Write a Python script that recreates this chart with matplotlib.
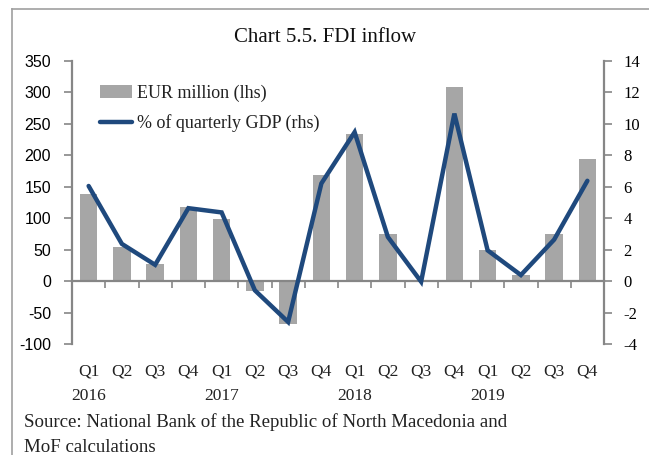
"""Chart 5.5 - FDI inflow, bars (EUR million, lhs) and line (% of GDP, rhs)."""
import matplotlib
matplotlib.use("Agg")  # noqa: E402
import matplotlib.pyplot as plt
import matplotlib.transforms as mtransforms
from matplotlib.lines import Line2D
import numpy as np

quarters = ["Q1", "Q2", "Q3", "Q4"] * 4
years = ["2016", "2017", "2018", "2019"]
eur_million = [138, 54, 27, 117, 98, -16, -68, 168,
               233, 75, 0, 309, 50, 9, 75, 194]
pct_gdp = [6.04, 2.36, 1.03, 4.63, 4.36, -0.59, -2.6, 6.2,
           9.46, 2.8, -0.04, 10.64, 1.95, 0.38, 2.63, 6.37]

_BAR = "#a6a6a6"
_LINE = "#1f497d"
_AXIS = "#868686"
_SERIF = "Liberation Serif"

plt.rcParams["axes.unicode_minus"] = False

fig = plt.figure(figsize=(6.49, 4.55), dpi=100)
ax = fig.add_axes([72 / 649, 1 - 344 / 455, (604 - 72) / 649, (344 - 60.7) / 455])
ax2 = ax.twinx()

x = np.arange(len(eur_million))
ax.bar(x, eur_million, width=0.52, color=_BAR, zorder=2, label="EUR million (lhs)")
ax2.plot(x, pct_gdp, color=_LINE, linewidth=3.2, solid_capstyle="round",
         solid_joinstyle="miter", label="% of quarterly GDP (rhs)")

ax.set_xlim(-0.5, len(x) - 0.5)
ax.set_ylim(-100, 350)
ax.set_yticks(np.arange(-100, 351, 50))
ax2.set_ylim(-4, 14)
ax2.set_yticks(np.arange(-4, 15, 2))

for a in (ax, ax2):
    a.spines["top"].set_visible(False)
    for s in ("left", "right", "bottom"):
        a.spines[s].set_color(_AXIS)
ax.spines["right"].set_visible(False)
ax2.spines["left"].set_visible(False)
ax2.spines["bottom"].set_visible(False)
ax.spines["bottom"].set_position(("data", 0))
ax.spines["left"].set_linewidth(1.6)
ax2.spines["right"].set_linewidth(1.6)
ax.spines["bottom"].set_linewidth(1.6)

# ticks on the zero line at category boundaries
ax.set_xticks(np.arange(0.5, len(x) - 1, 1.0))
ax.set_xticklabels([])
ax.tick_params(axis="x", direction="out", length=5, width=1.2, color=_AXIS)
ax.tick_params(axis="y", direction="out", length=6, width=1.2, color=_AXIS,
               labelsize=11.5, pad=9)
for lbl in ax.get_yticklabels():
    lbl.set_fontfamily("Liberation Sans")
ax2.tick_params(axis="y", direction="out", length=6, width=1.2, color=_AXIS,
                labelsize=12, pad=8)
for lbl in ax2.get_yticklabels():
    lbl.set_fontfamily(_SERIF)

# category labels under the plot
trans = mtransforms.blended_transform_factory(ax.transData, ax.transAxes)
q_y = 1 - (372 - 60.7) / (344 - 60.7)
yr_y = 1 - (396 - 60.7) / (344 - 60.7)
for i, q in enumerate(quarters):
    ax.text(x[i], q_y, q, transform=trans, ha="center", va="center",
            fontsize=12.5, family=_SERIF, color="#222222")
for k, yr in enumerate(years):
    ax.text(x[4 * k], yr_y, yr, transform=trans, ha="center", va="center",
            fontsize=12.5, family=_SERIF, color="#222222")

# legend
h1, l1 = ax.get_legend_handles_labels()
h2, l2 = ax2.get_legend_handles_labels()
leg = ax2.legend(h1 + h2, l1 + l2, loc="upper left", bbox_to_anchor=(0.052, 0.915),
                 frameon=False, prop={"family": _SERIF, "size": 13},
                 handlelength=1.8, handleheight=0.75, handletextpad=0.25,
                 labelspacing=0.68, borderaxespad=0, borderpad=0)
for t in leg.get_texts():
    t.set_color("#222222")

fig.text(325 / 649, 1 - 38 / 455, "Chart 5.5. FDI inflow", ha="center", va="center",
         fontsize=15, family=_SERIF, color="#111111")
fig.text(24 / 649, 1 - 422 / 455,
         "Source: National Bank of the Republic of North Macedonia and",
         ha="left", va="center", fontsize=13.6, family=_SERIF, color="#222222")
fig.text(24 / 649, 1 - 447 / 455, "MoF calculations",
         ha="left", va="center", fontsize=13.6, family=_SERIF, color="#222222")

# page frame (top and left rules)
fig.add_artist(Line2D([12 / 649, 12 / 649], [0, 1 - 9 / 455], transform=fig.transFigure,
                      color="#a0a0a0", linewidth=1.2))
fig.add_artist(Line2D([12 / 649, 1], [1 - 9 / 455, 1 - 9 / 455], transform=fig.transFigure,
                      color="#a0a0a0", linewidth=1.2))

fig.savefig("out.png", dpi=100)
plt.close(fig)
